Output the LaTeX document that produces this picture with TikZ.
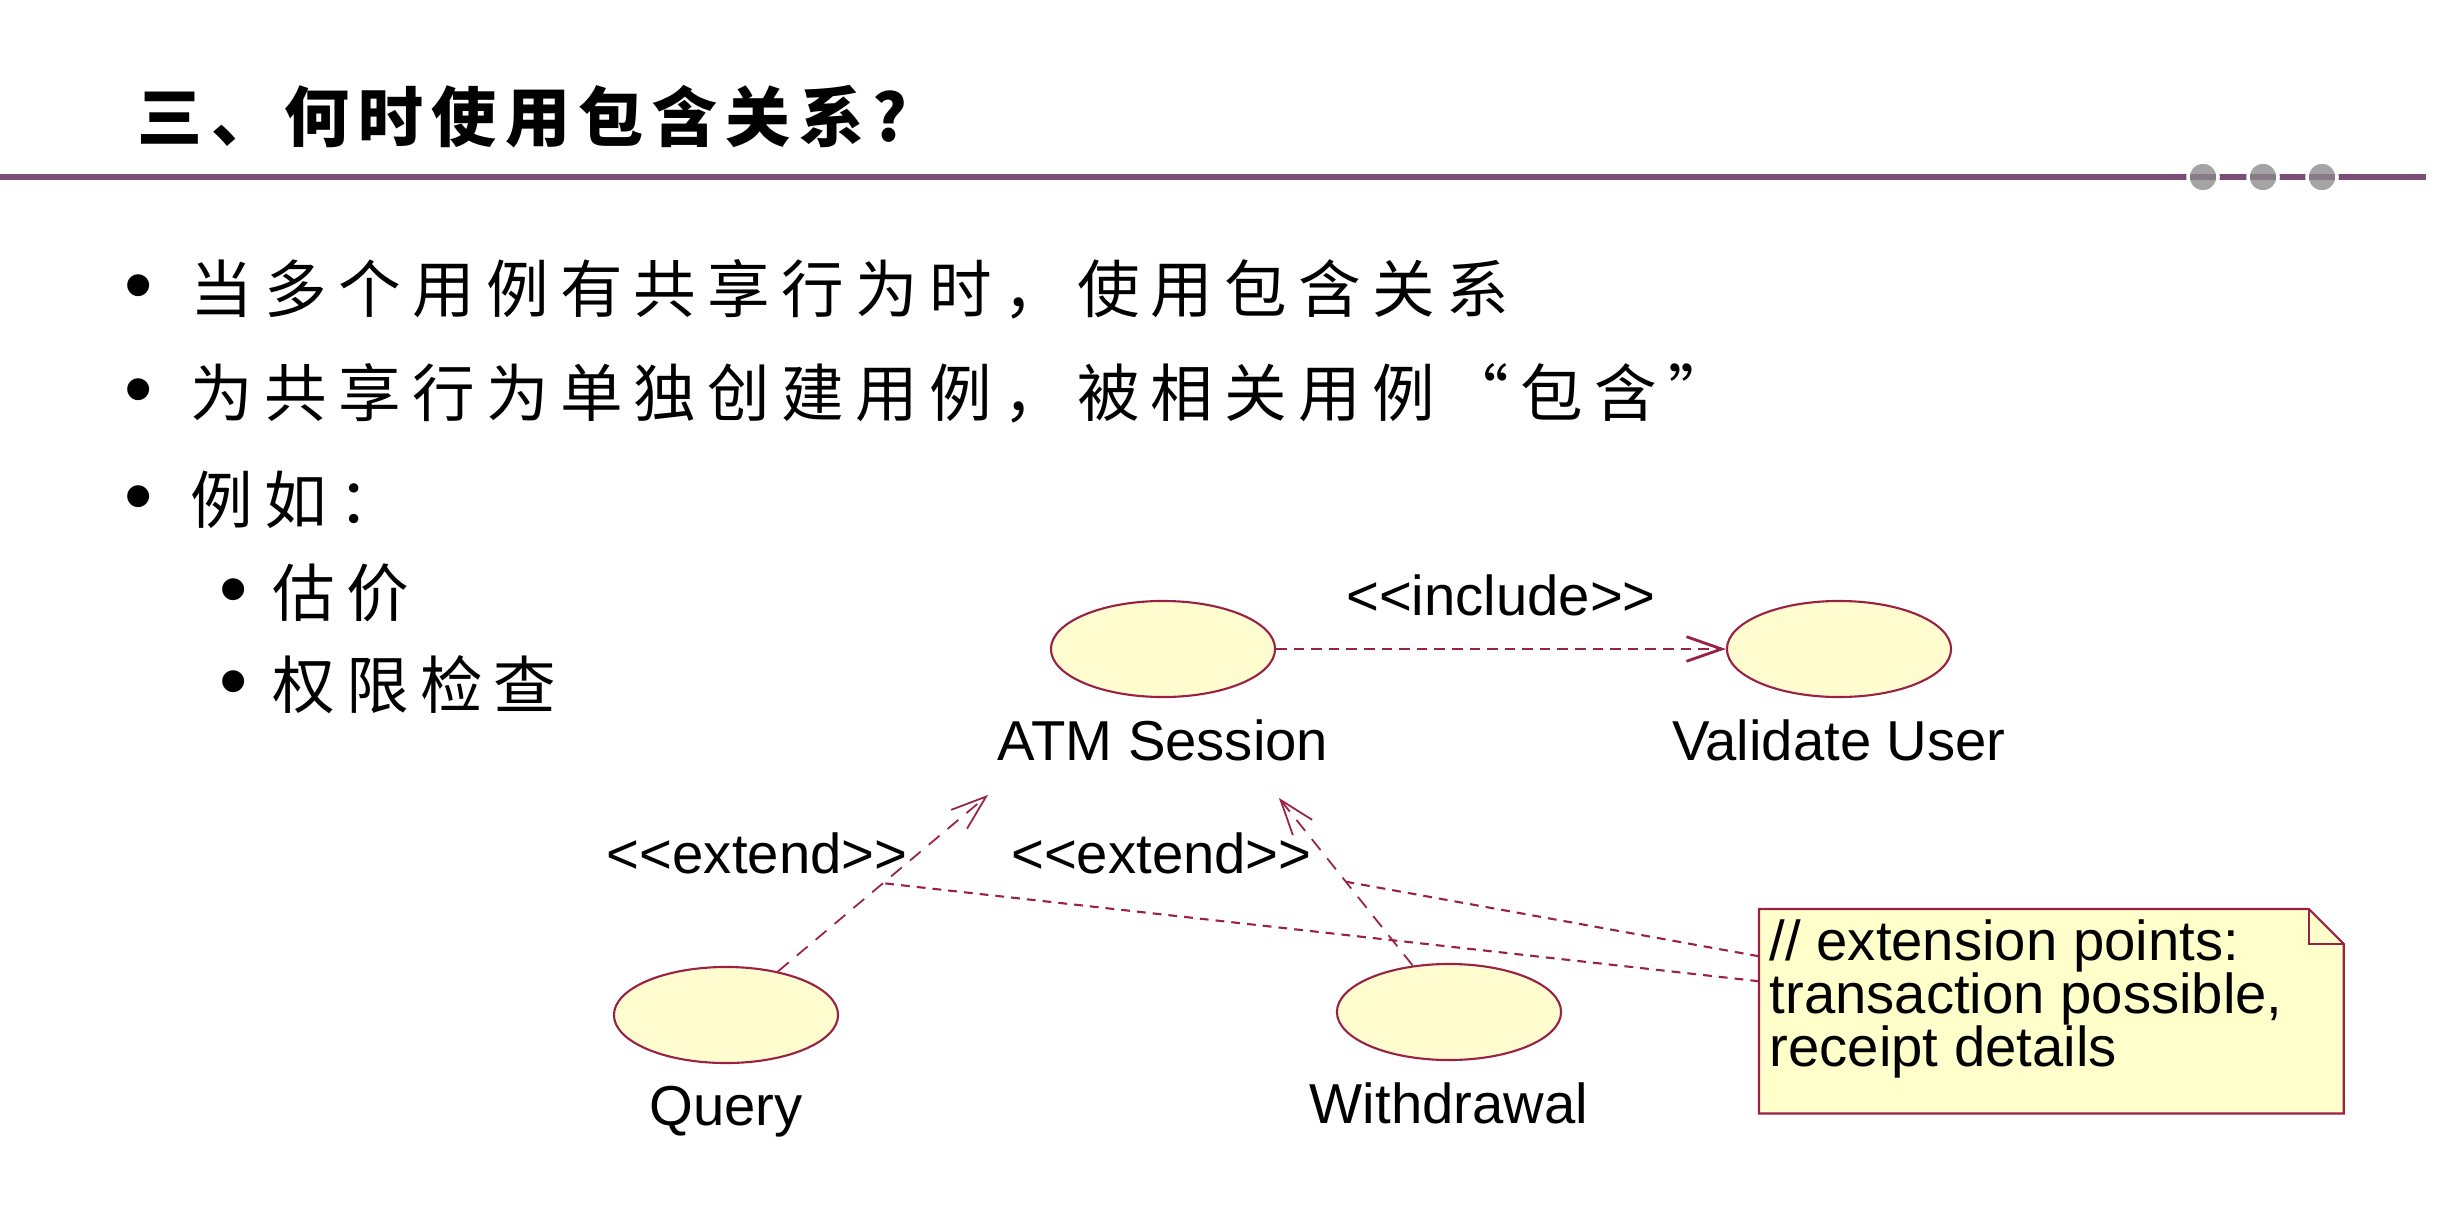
\documentclass[tikz,border=0pt]{standalone}
\usepackage{fontspec}
\setsansfont{Liberation Sans}
\newfontfamily\cjk{Noto Sans CJK SC}[LetterSpace=17]
\usepackage{tikz}
\usetikzlibrary{arrows.meta,positioning,calc,shapes.geometric}
\definecolor{rulepurple}{HTML}{7A4D79}
\definecolor{dotgray}{HTML}{8A8A8A}
\definecolor{ucline}{HTML}{992244}
\definecolor{ucfill}{HTML}{FFFDD0}
\definecolor{notefill}{HTML}{FFFFCC}
\newcommand{\bul}[1]{\makebox[#1][l]{\sffamily\fontsize{23pt}{20pt}\selectfont •}}
\tikzset{
  titletxt/.style={anchor=west,inner sep=0pt,font=\cjk\bfseries\fontsize{18.5pt}{22pt}\selectfont\addfontfeature{LetterSpace=13}},
  itemtxt/.style={anchor=west,inner sep=0pt,font=\cjk\fontsize{17.8pt}{21pt}\selectfont\addfontfeature{LetterSpace=18}},
  usecase/.style={ellipse,draw=ucline,fill=ucfill,line width=0.6pt,minimum width=2.24cm,minimum height=0.96cm,inner sep=0pt},
  uclabel/.style={inner sep=0pt,font=\sffamily\fontsize{16pt}{19pt}\selectfont},
  incl/.style={draw=ucline,line width=0.8pt,dash pattern=on 3pt off 2pt,-{Straight Barb[length=10pt,width=7pt]}},
  extd/.style={draw=ucline,line width=0.5pt,dash pattern=on 4pt off 3pt,-{Straight Barb[length=10pt,width=7pt]}},
  noteline/.style={draw=ucline,line width=0.6pt,dash pattern=on 2.5pt off 2pt},
  noteedge/.style={draw=ucline,line width=0.6pt}
}
\begin{document}
\begin{tikzpicture}[x=0.01cm,y=-0.01cm]
  \useasboundingbox (0,0) rectangle (2448,1224);
  % title and rule
  \node[titletxt] (title) at (137,117) {三、何时使用包含关系?};
  \draw[rulepurple,line width=1.7pt] (0,177) -- (2426,177);
  \foreach \cx/\nm in {2203/d1,2263/d2,2322/d3}
    \node[circle,minimum size=0.3cm,inner sep=0pt,draw=white,line width=1pt,fill=dotgray,fill opacity=0.78] (\nm) at (\cx,177) {};

  % bullets
  \node[itemtxt] (b1) at (124,289) {\bul{18.8pt}当多个用例有共享行为时，使用包含关系};
  \node[itemtxt] (b2) at (124,393) {\bul{18.8pt}为共享行为单独创建用例，被相关用例“包含”};
  \node[itemtxt] (b3) at (124,500) {\bul{18.8pt}例如：};
  \node[itemtxt] (b4) at (219,593) {\bul{15pt}估价};
  \node[itemtxt] (b5) at (219,685) {\bul{15pt}权限检查};

  % use cases
  \node[usecase] (atm) at (1163,649) {};
  \node[uclabel,below=6pt of atm] (atml) {ATM Session};
  \node[usecase] (val) at (1839,649) {};
  \node[uclabel,below=6pt of val] (vall) {Validate User};
  \node[usecase] (qry) at (726,1015) {};
  \node[uclabel,below=6pt of qry] (qryl) {Query};
  \node[usecase] (wd) at (1449,1012) {};
  \node[uclabel,below=6pt of wd] (wdl) {Withdrawal};

  % relations
  \draw[incl] (atm.east) -- node[uclabel,above=9pt] (inclab) {<\kern0pt<include>\kern0pt>} (val.west);
  \draw[extd] (qry.40) -- coordinate[pos=0.5] (qmid)
    node[uclabel,pos=0.67,left=3pt] (ext1) {<\kern0pt<extend>\kern0pt>}
    ($(atml.south west)+(-9,33)$);
  \draw[extd] (wd.128) -- coordinate[pos=0.5] (wmid)
    node[uclabel,pos=0.67,left=3pt] (ext2) {<\kern0pt<extend>\kern0pt>}
    ($(atml.south east)+(-50,36)$);

  % note
  \node[anchor=north west,minimum width=5.83cm,minimum height=2.03cm,inner sep=0pt] (note) at (1759,909) {};
  \draw[noteedge,fill=notefill] (note.north west) -- ($(note.north east)+(-35,0)$) -- ($(note.north east)+(0,35)$)
    -- (note.south east) -- (note.south west) -- cycle;
  \draw[noteedge] ($(note.north east)+(-35,0)$) |- ($(note.north east)+(0,35)$);
  \node[anchor=north west,inner sep=0pt,align=left,font=\sffamily\fontsize{16pt}{15.1pt}\selectfont] (notetxt)
    at ($(note.north west)+(10,10)$) {// extension points:\\transaction possible,\\receipt details};
  \draw[noteline] ($(note.west)+(0,-55)$) -- (wmid);
  \draw[noteline] ($(note.west)+(0,-30)$) -- (qmid);
\end{tikzpicture}
\end{document}
